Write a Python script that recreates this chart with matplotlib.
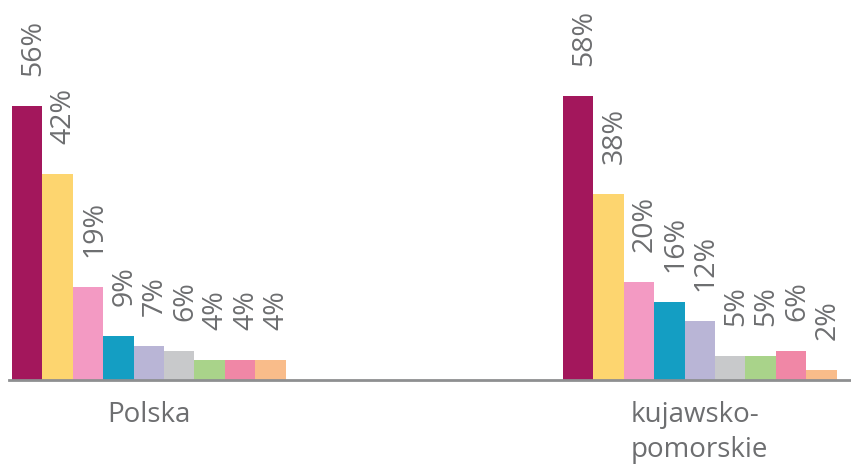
import matplotlib.pyplot as plt
import numpy as np

plt.rcParams['font.family'] = ['Open Sans', 'DejaVu Sans']

groups = ['Polska', 'kujawsko-\npomorskie']
polska = [56, 42, 19, 9, 7, 6, 4, 4, 4]
kujawsko = [58, 38, 20, 16, 12, 5, 5, 6, 2]
colors = ['#a3175c', '#fdd56f', '#f39ac3', '#149ec3', '#b9b5d6',
          '#c8c9cb', '#a9d38a', '#f087a6', '#f9bc8a']

text_col = '#6d6e70'

fig = plt.figure(figsize=(8.51, 4.68), dpi=100)
# axes spans px 9..851 horizontally, baseline at y=380
ax = fig.add_axes([9 / 851, (468 - 380) / 468, 842 / 851, 380 / 468])

unit = 30.4  # px per bar
x0 = [0, (563 - 12) / unit]
left = -0.5 - (12 - 9) / unit
ax.set_xlim(left, left + 842 / unit)
ax.set_ylim(0, 380 / 4.9)

for g, vals in enumerate([polska, kujawsko]):
    xs = x0[g] + np.arange(len(vals))
    ax.bar(xs, vals, width=1.0, color=colors, edgecolor='none')
    for x, v in zip(xs, vals):
        ax.annotate(f'{v}%', xy=(x, v), xytext=(6, 30), textcoords='offset pixels',
                    rotation=90, ha='center', va='bottom', fontsize=20.5, color=text_col)
    ax.text(x0[g] + 4, -4.3, groups[g], ha='center', va='top', fontsize=20,
            color=text_col, multialignment='left', linespacing=1.32)

for s in ['top', 'right', 'left']:
    ax.spines[s].set_visible(False)
ax.spines['bottom'].set_color('#8e8f91')
ax.spines['bottom'].set_linewidth(2)
ax.set_xticks([])
ax.set_yticks([])

fig.savefig('out.png', dpi=100)
